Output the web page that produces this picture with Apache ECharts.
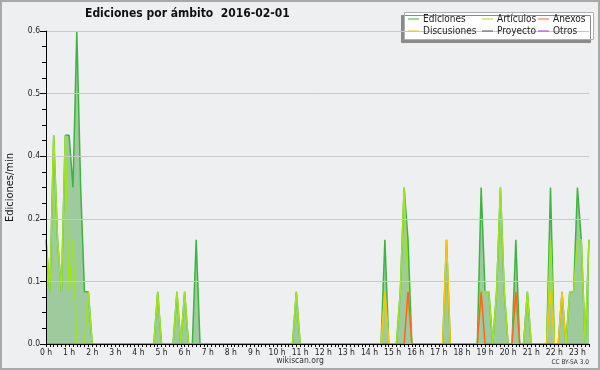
<!DOCTYPE html>
<html>
<head>
<meta charset="utf-8">
<script src="https://cdn.jsdelivr.net/npm/echarts@6/dist/echarts.min.js"></script>
<style>
html,body{margin:0;padding:0;background:#eeeff1;}
#c{width:600px;height:370px;}
</style>
</head>
<body>
<div id="c"></div>
<script>
// 10-minute bins, one row per hour (0:00 ... 23:30), edits per minute
const binMinutes = 10;
const ediciones = [
0.2,0.1,0.4,0.2,0.1,0.4,   // 0h
0.4,0.3,0.6,0.3,0.1,0.1,   // 1h
0,0,0,0,0,0,               // 2h
0,0,0,0,0,0,               // 3h
0,0,0,0,0,0.1,             // 4h
0,0,0,0,0.1,0,             // 5h
0.1,0,0,0.2,0,0,           // 6h
0,0,0,0,0,0,               // 7h
0,0,0,0,0,0,               // 8h
0,0,0,0,0,0,               // 9h
0,0,0,0,0,0.1,             // 10h
0,0,0,0,0,0,               // 11h
0,0,0,0,0,0,               // 12h
0,0,0,0,0,0,               // 13h
0,0,0,0,0.2,0,             // 14h
0,0,0.1,0.3,0.2,0,         // 15h
0,0,0,0,0,0,               // 16h
0,0,0.2,0,0,0,             // 17h
0,0,0,0,0,0.3,             // 18h
0.1,0.1,0,0.1,0.3,0.1,     // 19h
0,0,0.2,0,0,0.1,           // 20h
0,0,0,0,0,0.3,             // 21h
0,0,0.1,0,0.1,0.1,         // 22h
0.3,0.2,0,0.2              // 23h
];
const articulos = [
0.2,0.1,0.4,0.2,0.1,0.4,   // 0h
0.1,0.2,0,0,0,0.1,         // 1h
0,0,0,0,0,0,               // 2h
0,0,0,0,0,0,               // 3h
0,0,0,0,0,0.1,             // 4h
0,0,0,0,0.1,0,             // 5h
0.1,0,0,0,0,0,             // 6h
0,0,0,0,0,0,               // 7h
0,0,0,0,0,0,               // 8h
0,0,0,0,0,0,               // 9h
0,0,0,0,0,0.1,             // 10h
0,0,0,0,0,0,               // 11h
0,0,0,0,0,0,               // 12h
0,0,0,0,0,0,               // 13h
0,0,0,0,0.1,0,             // 14h
0,0,0.1,0.3,0.1,0,         // 15h
0,0,0,0,0,0,               // 16h
0,0,0,0,0,0,               // 17h
0,0,0,0,0,0.1,             // 18h
0.1,0.1,0,0.1,0.3,0.1,     // 19h
0,0,0.1,0,0,0.1,           // 20h
0,0,0,0,0,0.2,             // 21h
0,0,0,0,0.1,0.1,           // 22h
0.2,0.2,0,0.2              // 23h
];
const discusiones = [
0,0,0,0,0,0, 0,0,0,0,0,0, 0,0,0,0,0,0, 0,0,0,0,0,0,   // 0h-3h
0,0,0,0,0,0, 0,0,0,0,0,0, 0,0,0,0,0,0, 0,0,0,0,0,0,   // 4h-7h
0,0,0,0,0,0, 0,0,0,0,0,0, 0,0,0,0,0,0, 0,0,0,0,0,0,   // 8h-11h
0,0,0,0,0,0, 0,0,0,0,0,0,                             // 12h-13h
0,0,0,0,0.1,0,             // 14h
0,0,0,0,0,0,               // 15h
0,0,0,0,0,0,               // 16h
0,0,0.2,0,0,0,             // 17h
0,0,0,0,0,0,               // 18h
0,0,0,0,0,0,               // 19h
0,0,0,0,0,0,               // 20h
0,0,0,0,0,0.1,             // 21h
0,0,0.1,0,0,0,             // 22h
0,0,0,0                    // 23h
];
const anexos = [
0,0,0,0,0,0, 0,0,0,0,0,0, 0,0,0,0,0,0, 0,0,0,0,0,0,   // 0h-3h
0,0,0,0,0,0, 0,0,0,0,0,0, 0,0,0,0,0,0, 0,0,0,0,0,0,   // 4h-7h
0,0,0,0,0,0, 0,0,0,0,0,0, 0,0,0,0,0,0, 0,0,0,0,0,0,   // 8h-11h
0,0,0,0,0,0, 0,0,0,0,0,0,                             // 12h-13h
0,0,0,0,0,0,               // 14h
0,0,0,0,0.1,0,             // 15h
0,0,0,0,0,0,               // 16h
0,0,0,0,0,0,               // 17h
0,0,0,0,0,0.1,             // 18h
0,0,0,0,0,0,               // 19h
0,0,0.1,0,0,0,             // 20h
0,0,0,0,0,0,               // 21h
0,0,0,0,0,0,               // 22h
0,0,0,0                    // 23h
];
const proyecto = new Array(ediciones.length).fill(0);
const otros = new Array(ediciones.length).fill(0);

const seriesColors = {Ediciones:'#3db43d', 'Artículos':'#a0e41c', Anexos:'#ff6320', Discusiones:'#f7c600', Proyecto:'#555555', Otros:'#9a3cf0'};
const title = 'Ediciones por ámbito  2016-02-01';
const yName = 'Ediciones/min';

const FONT = "'DejaVu Sans Condensed','DejaVu Sans',sans-serif";
function pts(arr){ return arr.map((v,i)=>[i*binMinutes/60, v]); }
function mk(name, arr, extra){
  return Object.assign({
    name, type:'line', data: pts(arr), symbol:'none', showSymbol:false,
    lineStyle:{color:seriesColors[name], width:1.5},
    itemStyle:{color:seriesColors[name]}, silent:true
  }, extra||{});
}
const chart = echarts.init(document.getElementById('c'), null, {renderer:'canvas'});
const legendBase = {orient:'vertical', itemWidth:11, itemHeight:8, itemGap:2, padding:0, icon:'path://M0,4L11,4L11,5L0,5Z',
  textStyle:{fontFamily:FONT, fontSize:10, color:'#222', padding:[0,0,0,-1], lineHeight:10}, selectedMode:false, z:10};
chart.setOption({
  animation:false,
  backgroundColor:'#eeeff1',
  textStyle:{fontFamily:FONT},
  title:[
    {text:title, left:85, top:8, padding:0, textStyle:{fontFamily:FONT, fontSize:12, fontWeight:'bold', color:'#111'}},
    {text:'wikiscan.org', left:'center', top:356, padding:0, textStyle:{fontFamily:FONT, fontSize:8.5, fontWeight:'normal', color:'#333'}},
    {text:'CC BY-SA 3.0', right:11, top:359, padding:0, textStyle:{fontFamily:FONT, fontSize:6.5, fontWeight:'normal', color:'#333'}}
  ],
  graphic:[
    {type:'rect', z:0, shape:{x:1, y:1, width:598, height:368}, style:{fill:'none', stroke:'#a9a9a9', lineWidth:2}},
    {type:'rect', z:5, shape:{x:404.5, y:12.5, width:189, height:27}, style:{fill:'#ffffff', stroke:'#b0b0b0', lineWidth:1, shadowColor:'#8a8a8a', shadowOffsetX:-3, shadowOffsetY:3, shadowBlur:0}}
  ],
  legend:[
    Object.assign({}, legendBase, {left:408, top:14, data:['Ediciones','Discusiones']}),
    Object.assign({}, legendBase, {left:482, top:14, data:['Artículos','Proyecto']}),
    Object.assign({}, legendBase, {left:538, top:14, data:['Anexos','Otros']})
  ],
  grid:{left:46, right:11, top:31, bottom:26, containLabel:false, outerBoundsMode:'none'},
  xAxis:{
    type:'value', min:0, max:23.5, interval:1, z:6,
    axisLine:{lineStyle:{color:'#000', width:1}},
    axisTick:{length:3, lineStyle:{color:'#000'}},
    minorTick:{show:true, splitNumber:6, length:3, lineStyle:{color:'#000'}},
    splitLine:{show:false},
    axisLabel:{formatter:v=>v+' h', showMaxLabel:false, fontFamily:FONT, fontSize:8.5, color:'#222', margin:4}
  },
  yAxis:{
    type:'value', min:0, max:0.6, interval:0.12, z:6,
    name:yName, nameLocation:'middle', nameGap:30, nameRotate:90,
    nameTextStyle:{fontFamily:FONT, fontSize:11, color:'#111'},
    axisLine:{show:true, lineStyle:{color:'#000', width:1}},
    axisTick:{show:true, length:6, lineStyle:{color:'#000'}},
    minorTick:{show:true, splitNumber:4, length:4, lineStyle:{color:'#000'}},
    splitLine:{show:true, lineStyle:{color:'#c9c9c9', width:1}},
    axisLabel:{formatter:v=>v.toFixed(1), fontFamily:FONT, fontSize:8.5, color:'#222', margin:6}
  },
  series:[
    mk('Ediciones', ediciones, {areaStyle:{color:'#9dcb9d', opacity:1}, z:2}),
    mk('Proyecto', proyecto, {z:3}),
    mk('Otros', otros, {z:3}),
    mk('Artículos', articulos, {z:3}),
    mk('Discusiones', discusiones, {z:4}),
    mk('Anexos', anexos, {z:4})
  ]
});
</script>
</body>
</html>
